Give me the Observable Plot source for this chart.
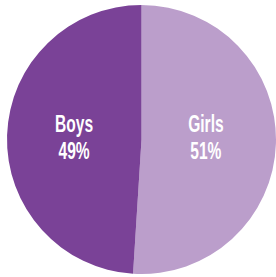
<!DOCTYPE html>
<html>
<head>
<meta charset="utf-8">
<script src="https://cdn.jsdelivr.net/npm/d3@7"></script>
<script src="https://cdn.jsdelivr.net/npm/@observablehq/plot@0.6"></script>
<style>
  html, body { margin: 0; padding: 0; background: #fff; }
  svg { display: block; }
</style>
</head>
<body>
<div id="chart"></div>
<script>
const categories = ["Girls", "Boys"];
const shares = [51, 49];
const colors = ["#bb9ecb", "#7a4297"];

const data = categories.map((c, i) => ({category: c, value: shares[i]}));
const arcs = d3.pie().value(d => d.value).sort(null)(data);

// label anchor at a fraction of the radius, horizontally beside the center
const labelR = 0.49;
const labels = arcs.map(a => {
  const mid = (a.startAngle + a.endAngle) / 2;
  return {
    x: labelR * Math.sign(Math.sin(mid)) - 0.015,
    y: -0.023,
    text: `${a.data.category}\n${a.data.value}%`
  };
});

function pieMark(index, scales, values, dimensions) {
  const cx = scales.x(0), cy = scales.y(0);
  const r = Math.abs(scales.x(1) - scales.x(0));
  const g = d3.create("svg:g").attr("transform", `translate(${cx},${cy})`);
  const arc = d3.arc().innerRadius(0).outerRadius(r);
  g.selectAll("path").data(arcs).join("path")
    .attr("d", arc)
    .attr("fill", (d, i) => scales.color(d.data.category));
  return g.node();
}

const plot = Plot.plot({
  width: 276,
  height: 277,
  marginLeft: 7,
  marginRight: 0,
  marginTop: 5,
  marginBottom: 3,
  x: {domain: [-1, 1], axis: null},
  y: {domain: [1, -1], axis: null},
  color: {domain: categories, range: colors},
  marks: [
    pieMark,
    Plot.text(labels, {
      x: "x", y: "y", text: "text",
      fill: "white",
      fontSize: 24.5,
      fontWeight: "bold",
      fontFamily: "'Liberation Sans', Arial, sans-serif",
      lineHeight: 1.08,
      textAnchor: "middle"
    })
  ]
});

document.getElementById("chart").appendChild(plot);

// condense the label glyphs horizontally about each label's center
d3.select(plot).selectAll("text").each(function() {
  const b = this.getBBox();
  const cx = b.x + b.width / 2;
  const t = this.getAttribute("transform") || "";
  this.setAttribute("transform", `${t} translate(${cx},0) scale(0.635,1) translate(${-cx},0)`.trim());
});
</script>
</body>
</html>
